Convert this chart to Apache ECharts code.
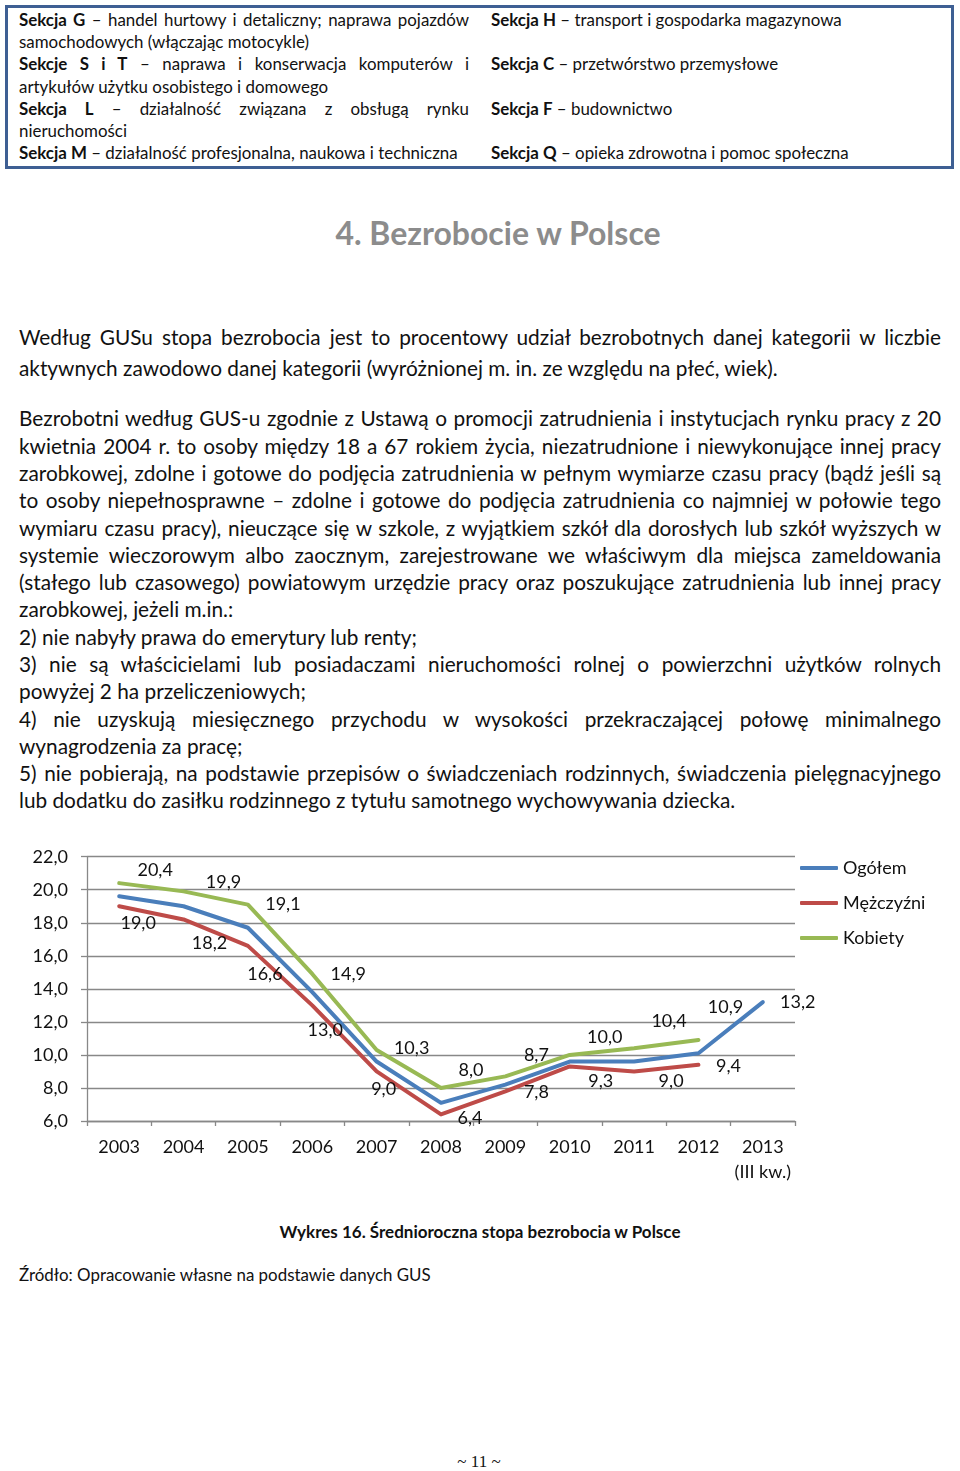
<!DOCTYPE html>
<html lang="pl">
<head>
<meta charset="utf-8">
<script src="https://cdn.jsdelivr.net/npm/echarts@6/dist/echarts.min.js"></script>
<style>
  html, body { margin: 0; padding: 0; background: #fff; }
  body { width: 960px; height: 1471px; position: relative; overflow: hidden; font-family: Lato, "Noto Sans", sans-serif; color: #111; }
  .abs { position: absolute; }
  .ln { position: absolute; white-space: nowrap; }
  .ln.j { text-align: justify; text-align-last: justify; }
  .ln span { display: inline; }
  #box { position: absolute; left: 5px; top: 5px; width: 943px; height: 158px; border: 3px solid #3e5f93; }
  .bx { font-size: 16.9px; line-height: 22.2px; height: 22.2px; }
  .p { font-size: 20.8px; }
  b { font-weight: 700; }
  #chart { position: absolute; left: 0; top: 830px; width: 960px; height: 380px; }
</style>
</head>
<body>
<div id="box"></div>
<div id="page"></div>
<div id="chart"></div>
<script>
// ---------- chart data ----------
const years = ['2003', '2004', '2005', '2006', '2007', '2008', '2009', '2010', '2011', '2012', '2013\n(III kw.)'];
const ogolem = [19.6, 19.0, 17.7, 13.8, 9.6, 7.1, 8.2, 9.6, 9.6, 10.1, 13.2];
const mezczyzni = [19.0, 18.2, 16.6, 13.0, 9.0, 6.4, 7.8, 9.3, 9.0, 9.4];
const kobiety = [20.4, 19.9, 19.1, 14.9, 10.3, 8.0, 8.7, 10.0, 10.4, 10.9];
const seriesNames = ['Ogółem', 'Mężczyźni', 'Kobiety'];
const yTicks = { min: 6, max: 22, interval: 2 };

// label offsets (layout only, relative to each point)
const kobietyLabelShift = [[36,-13],[40,-9],[35,0],[36,0],[35,-2],[30,-18],[31,-21],[35,-18],[35,-27],[27,-33]];
const mezczyzniLabelShift = [[19,17],[26,24],[17,28],[13,25],[7,18],[29,4],[31,1],[31,15],[37,10],[30,1]];
const ogolemLabelShift = [35,0];

// ---------- page text ----------
const W = 922, L = 19;
const boxLeft = [
  ['<b>Sekcja G</b> – handel hurtowy i detaliczny; naprawa pojazdów', true],
  ['samochodowych (włączając motocykle)', false],
  ['<b>Sekcje S i T</b> – naprawa i konserwacja komputerów i', true],
  ['artykułów użytku osobistego i domowego', false],
  ['<b>Sekcja L</b> – działalność związana z obsługą rynku', true],
  ['nieruchomości', false],
  ['<b>Sekcja M</b> – działalność profesjonalna, naukowa i techniczna', false]
];
const boxRight = [
  ['<b>Sekcja H</b> – transport i gospodarka magazynowa', 0],
  ['<b>Sekcja C</b> – przetwórstwo przemysłowe', 2],
  ['<b>Sekcja F</b> – budownictwo', 4],
  ['<b>Sekcja Q</b> – opieka zdrowotna i pomoc społeczna', 6]
];
const para1 = [
  ['Według GUSu stopa bezrobocia jest to procentowy udział bezrobotnych danej kategorii w liczbie', true],
  ['aktywnych zawodowo danej kategorii (wyróżnionej m. in. ze względu na płeć, wiek).', false]
];
const para2 = [
  ['Bezrobotni według GUS-u zgodnie z Ustawą o promocji zatrudnienia i instytucjach rynku pracy z 20', true],
  ['kwietnia 2004 r. to osoby między 18 a 67 rokiem życia, niezatrudnione i niewykonujące innej pracy', true],
  ['zarobkowej, zdolne i gotowe do podjęcia zatrudnienia w pełnym wymiarze czasu pracy (bądź jeśli są', true],
  ['to osoby niepełnosprawne – zdolne i gotowe do podjęcia zatrudnienia co najmniej w połowie tego', true],
  ['wymiaru czasu pracy), nieuczące się w szkole, z wyjątkiem szkół dla dorosłych lub szkół wyższych w', true],
  ['systemie wieczorowym albo zaocznym, zarejestrowane we właściwym dla miejsca zameldowania', true],
  ['(stałego lub czasowego) powiatowym urzędzie pracy oraz poszukujące zatrudnienia lub innej pracy', true],
  ['zarobkowej, jeżeli m.in.:', false],
  ['2) nie nabyły prawa do emerytury lub renty;', false],
  ['3) nie są właścicielami lub posiadaczami nieruchomości rolnej o powierzchni użytków rolnych', true],
  ['powyżej 2 ha przeliczeniowych;', false],
  ['4) nie uzyskują miesięcznego przychodu w wysokości przekraczającej połowę minimalnego', true],
  ['wynagrodzenia za pracę;', false],
  ['5) nie pobierają, na podstawie przepisów o świadczeniach rodzinnych, świadczenia pielęgnacyjnego', true],
  ['lub dodatku do zasiłku rodzinnego z tytułu samotnego wychowywania dziecka.', false]
];

const page = document.getElementById('page');
const lines = [];
function addLine(html, left, top, width, lh, cls, just) {
  const d = document.createElement('div');
  d.className = 'ln ' + cls;
  d.style.left = left + 'px';
  d.style.top = top + 'px';
  d.style.width = width + 'px';
  d.style.lineHeight = lh + 'px';
  d.innerHTML = '<span>' + html + '</span>';
  page.appendChild(d);
  lines.push([d, just, width]);
}
boxLeft.forEach((r, i) => addLine(r[0], 19, 8.9 + i * 22.2, 450, 22.2, 'bx', r[1]));
boxRight.forEach(r => addLine(r[0], 491, 8.9 + r[1] * 22.2, 460, 22.2, 'bx', false));
para1.forEach((r, i) => addLine(r[0], L, 320.5 + i * 31, W, 31, 'p', r[1]));
para2.forEach((r, i) => addLine(r[0], L, 404.4 + i * 27.29, W, 27.29, 'p', r[1]));

// fit: shrink any line that would overflow, then justify
lines.forEach(([d, just, width]) => {
  const w = d.firstChild.getBoundingClientRect().width;
  if (w > width - 1) {
    const fs = parseFloat(getComputedStyle(d).fontSize);
    d.style.fontSize = (fs * (width - 2) / w) + 'px';
  }
  if (just) d.classList.add('j');
});

function txt(html, css) {
  const d = document.createElement('div');
  d.className = 'abs';
  d.innerHTML = html;
  d.style.cssText += css;
  page.appendChild(d);
}
txt('4. Bezrobocie w Polsce', 'left:0;width:996px;text-align:center;top:211px;font-size:32px;line-height:44px;font-weight:700;color:#8c8c8c;');
txt('Wykres 16. Średnioroczna stopa bezrobocia w Polsce', 'left:0;width:960px;text-align:center;top:1221px;font-size:17px;line-height:22px;font-weight:700;');
txt('Źródło: Opracowanie własne na podstawie danych GUS', 'left:19px;top:1264px;font-size:16.9px;line-height:22px;');
txt('~ 11 ~', 'left:0;width:958px;text-align:center;top:1451px;font-size:17px;line-height:22px;font-family:"Liberation Serif",serif;');

// ---------- chart ----------
const chart = echarts.init(document.getElementById('chart'), null, { renderer: 'canvas' });
const fmt = v => v.toFixed(1).replace('.', ',');
const labelBase = { position: 'inside', color: '#111', fontSize: 18, fontFamily: 'Lato', formatter: p => fmt(p.value) };

function mkData(vals, shifts, onlyLast) {
  return vals.map((v, i) => {
    if (onlyLast) {
      return i === vals.length - 1 ? { value: v, label: { show: true, offset: shifts } } : { value: v };
    }
    return { value: v, label: { show: true, offset: shifts[i] } };
  });
}

const lineCommon = { type: 'line', symbol: 'circle', symbolSize: 0, showSymbol: true, smooth: false, lineStyle: { width: 4, cap: 'round', join: 'round' }, z: 3 };

chart.setOption({
  animation: false,
  color: ['#4a7ebb', '#be4b48', '#98b954'],
  textStyle: { fontFamily: 'Lato' },
  grid: { left: 87, right: 165, top: 26.7, bottom: 89, containLabel: false },
  legend: {
    data: seriesNames,
    orient: 'vertical',
    left: 795,
    top: 22,
    icon: 'roundRect',
    itemWidth: 38,
    itemHeight: 4,
    itemGap: 13,
    textStyle: { fontSize: 18, lineHeight: 22, color: '#111', fontFamily: 'Lato' }
  },
  xAxis: {
    type: 'category',
    data: years,
    boundaryGap: true,
    axisLine: { lineStyle: { color: '#888', width: 1.3 } },
    axisTick: { show: true, length: 5, lineStyle: { color: '#888', width: 1.3 } },
    axisLabel: { fontSize: 18, color: '#111', margin: 14, lineHeight: 25, fontFamily: 'Lato', interval: 0 }
  },
  yAxis: {
    type: 'value',
    min: yTicks.min,
    max: yTicks.max,
    interval: yTicks.interval,
    axisLine: { show: true, lineStyle: { color: '#888', width: 1.3 } },
    axisTick: { show: true, length: 6, lineStyle: { color: '#888', width: 1.3 } },
    splitLine: { lineStyle: { color: '#888', width: 1.3 } },
    axisLabel: { fontSize: 18, color: '#111', margin: 19, fontFamily: 'Lato', formatter: v => fmt(v) }
  },
  series: [
    Object.assign({}, lineCommon, { name: seriesNames[0], data: mkData(ogolem, ogolemLabelShift, true), label: Object.assign({ show: false }, labelBase) }),
    Object.assign({}, lineCommon, { name: seriesNames[1], data: mkData(mezczyzni, mezczyzniLabelShift, false), label: Object.assign({ show: true }, labelBase) }),
    Object.assign({}, lineCommon, { name: seriesNames[2], data: mkData(kobiety, kobietyLabelShift, false), label: Object.assign({ show: true }, labelBase) })
  ]
});
</script>
</body>
</html>
